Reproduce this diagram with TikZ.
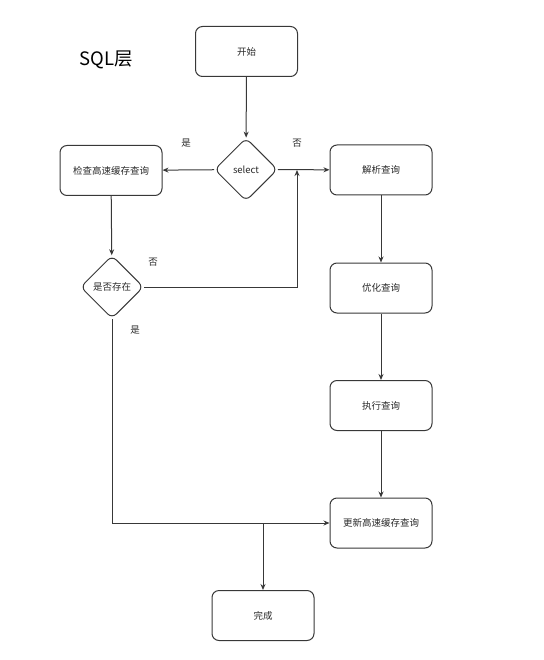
\documentclass[tikz,border=0pt]{standalone}
\usepackage{fontspec}
\setmainfont{Noto Sans CJK SC}
\usepackage{tikz}
\usetikzlibrary{arrows.meta,shapes.geometric}
\definecolor{flowLine}{HTML}{383838}
\definecolor{flowText}{HTML}{2A2A2A}

\begin{document}
\begin{tikzpicture}[
  x=1pt, y=-1pt,
  stepbox/.style={draw=flowLine, fill=white, rounded corners=7pt,
    minimum width=102pt, minimum height=50pt, inner sep=2pt,
    line width=1pt, font=\fontsize{9.5}{11}\selectfont, text=flowText},
  decide/.style={draw=flowLine, fill=white, diamond, aspect=1, rounded corners=6pt,
    minimum width=63pt, minimum height=63pt, inner sep=0pt,
    line width=1pt, font=\fontsize{9.5}{11}\selectfont, text=flowText},
  answer/.style={font=\fontsize{9.5}{11}\selectfont, text=flowText},
  heading/.style={font=\fontsize{18.5}{22}\selectfont, text=black},
  conn/.style={-{Stealth[length=6pt,width=5pt]}, line width=1pt, flowLine},
]

\useasboundingbox (0,0) rectangle (543,660);

% === title ===
\node[heading] (layer) at (106.5,60) {SQL层};

% === main column ===
\node[stepbox] (start) at (246.5,51.5) {开始};
\node[decide] (select) at (246,169.5) {select};
\node[stepbox] (check) at (111,170.5) {检查高速缓存查询};
\node[decide] (exist) at (112,287) {是否存在};

% === query path ===
\node[stepbox] (parse) at (381,170) {解析查询};
\node[stepbox] (optim) at (381,288) {优化查询};
\node[stepbox] (exec) at (381,405.5) {执行查询};
\node[stepbox] (update) at (381,523) {更新高速缓存查询};
\node[stepbox] (done) at (263,615.5) {完成};

\coordinate (join) at (297,170);
\coordinate (split) at (263,523);

% === connectors ===
\draw[conn] (start) -- (select);
\draw[conn] (select) -- (check);
\draw[conn] (select) -- (parse);
\draw[conn] (check) -- (exist);
\draw[conn] (exist.east) -| (join);
\draw[conn] (parse) -- (optim);
\draw[conn] (optim) -- (exec);
\draw[conn] (exec) -- (update);
\draw[conn] (exist.south) |- (update.west);
\draw[conn] (split) -- (done);

% === answers ===
\node[answer] (yes1) at (186,143.5) {是};
\node[answer] (no1) at (297,143.5) {否};
\node[answer] (no2) at (153,262.5) {否};
\node[answer] (yes2) at (135,330) {是};

\end{tikzpicture}
\end{document}
